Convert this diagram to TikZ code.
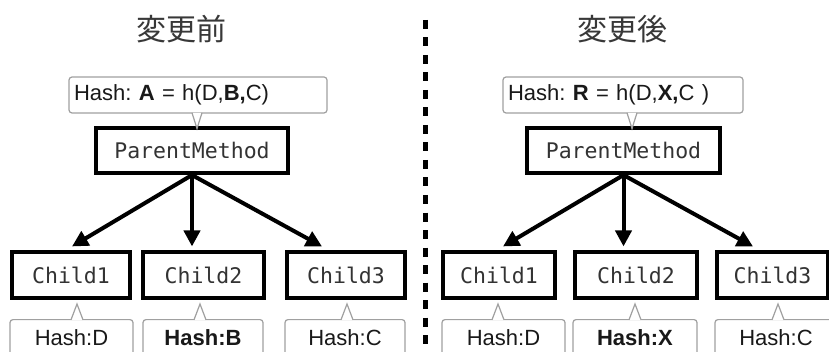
\documentclass[tikz,border=0pt]{standalone}
\usepackage{fontspec}
\setmainfont{Liberation Sans}
\newfontfamily\cjkfont{Noto Sans CJK JP}
\newfontfamily\codefont{DejaVu Sans Mono}
\usetikzlibrary{positioning}
\usetikzlibrary{calc}
\usetikzlibrary{arrows.meta}
\frenchspacing
\definecolor{codegray}{HTML}{333333}
\definecolor{tipgray}{HTML}{A0A0A0}
\tikzset{>={Triangle[length=16pt,width=16pt]}}
\tikzset{method/.style={draw, line width=3.6pt, font=\codefont\fontsize{21.5}{24}\selectfont, text=codegray, minimum height=45.5pt, inner sep=0pt}}
\tikzset{hash/.style={draw=tipgray, line width=1.2pt, rounded corners=3pt, fill=white, font=\fontsize{22}{26}\selectfont, text=black!90, inner sep=0pt}}
\tikzset{childhash/.style={hash, anchor=north, text height=26pt, text depth=24pt}}
\tikzset{hashtip/.style={draw=tipgray, line width=1.2pt, fill=white, line join=miter}}
\tikzset{call/.style={->, line width=4pt}}
\tikzset{title/.style={font=\cjkfont\fontsize{30}{36}\selectfont, text=black!78}}
\tikzset{divider/.style={line width=5pt, dash pattern=on 9pt off 8.5pt}}

\begin{document}
\begin{tikzpicture}[x=1pt, y=1pt]
\path[fill=white, use as bounding box] (0,0) rectangle (829,351);
\clip (0,0) rectangle (829,351);

% titles and divider
\node[title] (pre) at (181.5,322) {変更前};
\node[title] (post) at (622,322) {変更後};
\coordinate (sepTop) at (425,331);
\coordinate (sepBot) at (425,-5);
\draw[divider] (sepTop) -- (sepBot);

% before
\node[hash, text width=248pt, align=left, inner xsep=5pt, minimum height=36pt, text height=16pt, text depth=5pt] (hA) at (198,256) {Hash: \textbf{A} = h(D,\textbf{B,}C)};
\node[method, minimum width=192pt] (pm1) at (192,200.5) {ParentMethod};
\node[method, minimum width=118pt] (c11) at (71,76) {Child1};
\node[method, minimum width=121pt] (c12) at (203.5,76) {Child2};
\node[method, minimum width=118pt] (c13) at (346,76) {Child3};
\node[childhash, minimum width=123pt] (hD1) at (71.5,32) {Hash:D};
\node[childhash, minimum width=120pt] (hB1) at (203,32) {\textbf{Hash:B}};
\node[childhash, minimum width=120pt] (hC1) at (345,32) {Hash:C};

\draw[call] (pm1.south) -- ($(c11.north)+(1,4)$);
\draw[call] (pm1.south) -- ($(pm1.south |- c12.north)+(0,4)$);
\draw[call] (pm1.south) -- ($(c13.north)+(-24,4)$);

% after
\node[hash, text width=230pt, align=left, inner xsep=5pt, minimum height=36pt, text height=16pt, text depth=5pt] (hR) at (623,256) {Hash: \textbf{R} = h(D,\textbf{X,}C )};
\node[method, minimum width=193pt] (pm2) at (623.5,200.5) {ParentMethod};
\node[method, minimum width=112pt] (c21) at (499,76) {Child1};
\node[method, minimum width=122pt] (c22) at (636,76) {Child2};
\node[method, minimum width=111pt] (c23) at (772.5,76) {Child3};
\node[childhash, minimum width=123pt] (hD2) at (503.5,32) {Hash:D};
\node[childhash, minimum width=124pt] (hX2) at (635,32) {\textbf{Hash:X}};
\node[childhash, minimum width=122pt] (hC2) at (776,32) {Hash:C};

\draw[call] (pm2.south) -- ($(c21.north)+(4,4)$);
\draw[call] (pm2.south) -- ($(pm2.south |- c22.north)+(0,4)$);
\draw[call] (pm2.south) -- ($(c23.north)+(-19.5,4)$);

% callout pointers
\foreach \n/\dx in {hA/-1, hR/9}
  \draw[hashtip] ($(\n.south)+(\dx-5,0.8)$) -- ($(\n.south)+(\dx,-15)$) -- ($(\n.south)+(\dx+5,0.8)$);
\foreach \n/\dx in {hD1/5.5, hB1/-3, hC1/2, hD2/-5.5, hX2/0, hC2/2}
  \draw[hashtip] ($(\n.north)+(\dx-6,-0.8)$) -- ($(\n.north)+(\dx,15)$) -- ($(\n.north)+(\dx+6,-0.8)$);
\end{tikzpicture}
\end{document}
